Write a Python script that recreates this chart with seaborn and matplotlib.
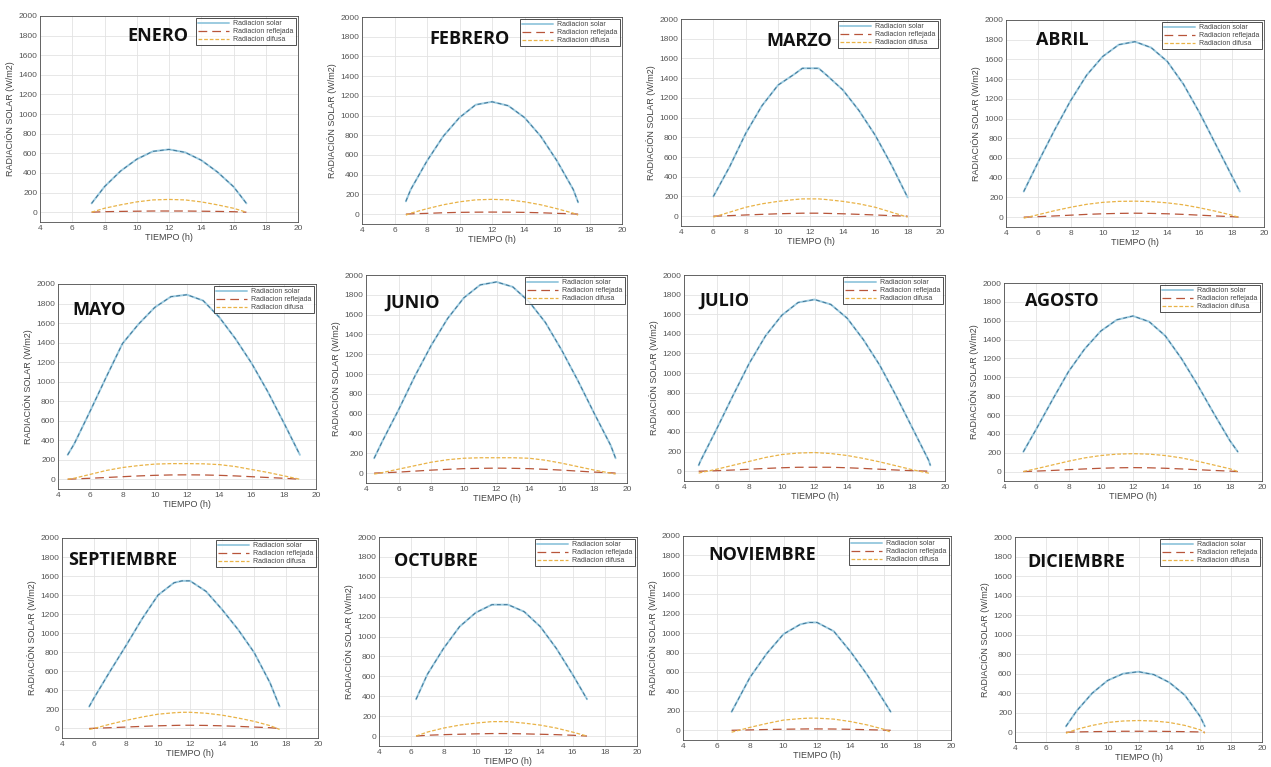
import numpy as np
import pandas as pd
import matplotlib
matplotlib.use("Agg")
import matplotlib.pyplot as plt
import seaborn as sns

# ---------------- DATA ----------------
months = ["ENERO", "FEBRERO", "MARZO", "ABRIL", "MAYO", "JUNIO",
          "JULIO", "AGOSTO", "SEPTIEMBRE", "OCTUBRE", "NOVIEMBRE", "DICIEMBRE"]

ene_t = [7.2, 8, 9, 10, 11, 12, 13, 14, 15, 16, 16.8]
ene_solar = [90, 260, 420, 540, 620, 640, 610, 530, 410, 260, 90]
ene_refl = [0, 5, 8, 10, 12, 12, 12, 10, 8, 5, 0]
ene_dif = [0, 40, 75, 105, 125, 130, 125, 105, 75, 40, 0]

feb_t = [6.7, 7, 8, 9, 10, 11, 12, 13, 14, 15, 16, 17, 17.3]
feb_solar = [130, 250, 540, 790, 980, 1110, 1140, 1100, 980, 790, 540, 250, 120]
feb_refl = [0, 3, 8, 14, 18, 20, 21, 20, 18, 14, 8, 3, 0]
feb_dif = [-10, 10, 55, 95, 125, 145, 150, 145, 125, 95, 55, 10, -10]

mar_t = [6, 7, 8, 9, 10, 11, 11.5, 12.5, 13, 14, 15, 16, 17, 18]
mar_solar = [200, 500, 840, 1120, 1330, 1440, 1500, 1500, 1430, 1280, 1070, 820, 520, 190]
mar_refl = [0, 5, 12, 18, 24, 28, 30, 30, 28, 24, 18, 12, 5, 0]
mar_dif = [-10, 40, 90, 125, 150, 168, 175, 175, 168, 150, 125, 90, 40, -10]

abr_t = [5.1, 6, 7, 8, 9, 10, 11, 12, 13, 14, 15, 16, 17, 18, 18.5]
abr_solar = [260, 560, 880, 1180, 1440, 1630, 1750, 1780, 1720, 1580, 1350, 1060, 740, 420, 260]
abr_refl = [0, 5, 12, 20, 28, 34, 38, 40, 38, 34, 28, 20, 12, 5, 0]
abr_dif = [-10, 25, 65, 100, 130, 150, 160, 162, 158, 145, 125, 95, 60, 20, -5]

may_t = [4.6, 5, 6, 7, 8, 9, 10, 11, 12, 13, 14, 15, 16, 17, 18, 19]
may_solar = [250, 360, 700, 1050, 1390, 1590, 1760, 1870, 1890, 1830, 1660, 1440, 1190, 900, 580, 250]
may_refl = [0, 3, 10, 18, 26, 34, 40, 44, 45, 44, 40, 34, 26, 18, 10, 0]
may_dif = [0, 10, 50, 90, 120, 140, 155, 160, 160, 158, 150, 130, 100, 70, 35, 0]

jun_t = [4.5, 5, 6, 7, 8, 9, 10, 11, 12, 13, 14, 15, 16, 17, 18, 19, 19.3]
jun_solar = [150, 320, 640, 980, 1290, 1560, 1770, 1900, 1930, 1880, 1730, 1520, 1240, 930, 600, 280, 150]
jun_refl = [0, 3, 10, 20, 30, 38, 45, 48, 50, 48, 45, 38, 30, 20, 10, 3, 0]
jun_dif = [-10, 5, 40, 75, 110, 135, 150, 155, 155, 155, 150, 130, 100, 65, 30, 0, -10]

jul_t = [4.9, 5, 6, 7, 8, 9, 10, 11, 12, 13, 14, 15, 16, 17, 18, 19, 19.1]
jul_solar = [60, 100, 430, 770, 1100, 1380, 1590, 1720, 1750, 1700, 1560, 1340, 1080, 770, 440, 110, 60]
jul_refl = [0, 0, 5, 12, 20, 28, 35, 40, 40, 40, 35, 28, 20, 12, 5, 0, 0]
jul_dif = [-20, -15, 20, 60, 100, 140, 170, 185, 190, 180, 160, 130, 95, 55, 15, -20, -20]

ago_t = [5.2, 6, 7, 8, 9, 10, 11, 12, 13, 14, 15, 16, 17, 18, 18.5]
ago_solar = [210, 450, 760, 1060, 1300, 1490, 1610, 1650, 1590, 1440, 1200, 920, 620, 330, 210]
ago_refl = [0, 5, 12, 20, 28, 35, 40, 42, 40, 35, 28, 20, 12, 5, 0]
ago_dif = [0, 30, 70, 110, 145, 170, 185, 190, 185, 170, 145, 110, 70, 30, 0]

sep_t = [5.7, 6, 7, 8, 9, 10, 11, 11.5, 12, 13, 14, 15, 16, 17, 17.6]
sep_solar = [230, 320, 600, 870, 1150, 1400, 1530, 1550, 1550, 1440, 1250, 1040, 800, 480, 230]
sep_refl = [0, 2, 8, 15, 22, 28, 32, 34, 34, 32, 28, 22, 15, 8, 0]
sep_dif = [-10, 0, 45, 85, 120, 150, 165, 170, 170, 160, 140, 110, 75, 30, -10]

oct_t = [6.3, 7, 8, 9, 10, 11, 12, 13, 14, 15, 16, 16.9]
oct_solar = [370, 620, 880, 1100, 1240, 1320, 1320, 1250, 1100, 880, 620, 370]
oct_refl = [0, 8, 14, 18, 22, 25, 25, 22, 18, 14, 8, 0]
oct_dif = [0, 40, 80, 110, 130, 145, 145, 130, 110, 80, 40, 0]

nov_t = [6.9, 8, 9, 10, 11, 11.5, 12, 13, 14, 15, 16, 16.4]
nov_solar = [190, 545, 790, 990, 1090, 1110, 1110, 1020, 810, 570, 300, 190]
nov_refl = [0, 4, 8, 11, 13, 14, 14, 13, 10, 6, 2, 0]
nov_dif = [-20, 30, 70, 105, 120, 125, 125, 115, 90, 55, 10, -20]

dic_t = [7.3, 8, 9, 10, 11, 12, 13, 14, 15, 16, 16.3]
dic_solar = [60, 220, 400, 530, 600, 620, 590, 510, 380, 160, 60]
dic_refl = [0, 3, 6, 8, 10, 10, 10, 8, 6, 3, 0]
dic_dif = [-10, 30, 70, 100, 115, 120, 115, 100, 70, 25, -10]

series = [
    (ene_t, ene_solar, ene_refl, ene_dif),
    (feb_t, feb_solar, feb_refl, feb_dif),
    (mar_t, mar_solar, mar_refl, mar_dif),
    (abr_t, abr_solar, abr_refl, abr_dif),
    (may_t, may_solar, may_refl, may_dif),
    (jun_t, jun_solar, jun_refl, jun_dif),
    (jul_t, jul_solar, jul_refl, jul_dif),
    (ago_t, ago_solar, ago_refl, ago_dif),
    (sep_t, sep_solar, sep_refl, sep_dif),
    (oct_t, oct_solar, oct_refl, oct_dif),
    (nov_t, nov_solar, nov_refl, nov_dif),
    (dic_t, dic_solar, dic_refl, dic_dif),
]

legend_labels = ["Radiacion solar", "Radiacion reflejada", "Radiacion difusa"]
xticks = [4, 6, 8, 10, 12, 14, 16, 18, 20]
yticks = [0, 200, 400, 600, 800, 1000, 1200, 1400, 1600, 1800, 2000]

# ---------------- LAYOUT ----------------
W, H = 1271, 767
# axes boxes in pixels: left, top, right, bottom
boxes = [
    (40, 16, 298, 222), (362, 17, 622, 224), (681, 19, 940, 226), (1006, 20, 1264, 227),
    (58, 284, 316, 489), (366, 275, 627, 483), (684, 275, 945, 481), (1004, 283, 1262, 481),
    (62, 538, 318, 738), (379, 537, 637, 746), (683, 536, 951, 740), (1015, 537, 1262, 742),
]
title_pos = [
    (0.34, 0.905), (0.26, 0.895), (0.33, 0.895), (0.115, 0.905),
    (0.054, 0.875), (0.073, 0.865), (0.06, 0.875), (0.08, 0.91),
    (0.023, 0.89), (0.058, 0.885), (0.093, 0.905), (0.05, 0.88),
]

sns.set_theme(style="white")
plt.rcParams['font.family'] = ['Liberation Sans', 'DejaVu Sans']

fig = plt.figure(figsize=(W / 100, H / 100), dpi=100)
fig.patch.set_facecolor("white")

c_solar_light = "#9ccbe0"
c_solar_dark = "#3f7596"
c_refl = "#b8553a"
c_dif = "#e9b347"

for i, (name, (t, s, r, d)) in enumerate(zip(months, series)):
    l, tp, rr, b = boxes[i]
    ax = fig.add_axes([l / W, 1 - b / H, (rr - l) / W, (b - tp) / H])
    df = pd.DataFrame({"t": t, "solar": s, "refl": r, "dif": d})
    sns.lineplot(data=df, x="t", y="solar", ax=ax, color=c_solar_light, lw=1.4,
                 estimator=None, sort=False, label=legend_labels[0])
    sns.lineplot(data=df, x="t", y="solar", ax=ax, color=c_solar_dark, lw=0.7,
                 estimator=None, sort=False, dashes=(4, 3), legend=False)
    sns.lineplot(data=df, x="t", y="refl", ax=ax, color=c_refl, lw=0.9,
                 estimator=None, sort=False, dashes=(7, 4), label=legend_labels[1])
    sns.lineplot(data=df, x="t", y="dif", ax=ax, color=c_dif, lw=0.9,
                 estimator=None, sort=False, dashes=(3, 1.5), label=legend_labels[2])
    ax.set_xlim(4, 20)
    ax.set_ylim(-100, 2000)
    ax.set_xticks(xticks)
    ax.set_yticks(yticks)
    ax.tick_params(labelsize=6, colors="#555555", length=2, width=0.5, direction="in",
                   pad=2)
    ax.grid(True, color="#e3e3e3", lw=0.6)
    for sp in ax.spines.values():
        sp.set_color("#4d4d4d")
        sp.set_linewidth(0.6)
    ax.set_xlabel("TIEMPO (h)", fontsize=6.5, color="#444444", labelpad=1)
    ax.set_ylabel("RADIACIÓN SOLAR (W/m2)", fontsize=6.5, color="#444444", labelpad=2)
    leg = ax.legend(loc="upper right", fontsize=5, frameon=True, fancybox=False,
                    borderaxespad=0.3, handlelength=4.5, handletextpad=0.6,
                    labelspacing=0.15, borderpad=0.3)
    leg.get_frame().set_edgecolor("#222222")
    leg.get_frame().set_linewidth(0.7)
    for txt in leg.get_texts():
        txt.set_color("#444444")
    tx, ty = title_pos[i]
    ax.text(tx, ty, name, transform=ax.transAxes, fontsize=13, fontweight="bold",
            family=["Open Sans", "DejaVu Sans"], color="#111111", va="center", ha="left")

fig.savefig("out.png", dpi=100, facecolor="white")
